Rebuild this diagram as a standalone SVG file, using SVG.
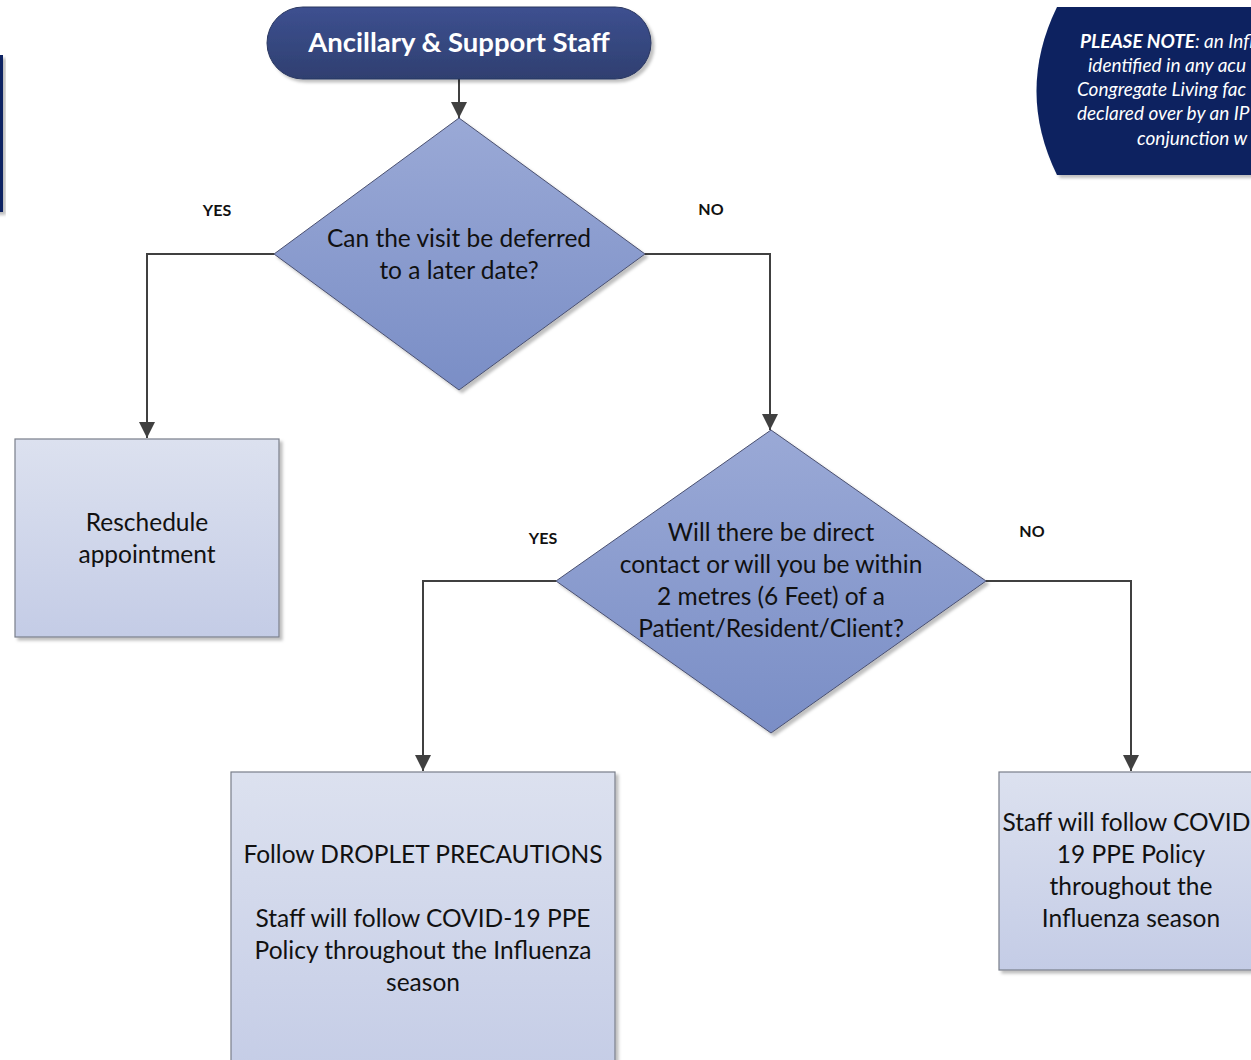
<svg xmlns="http://www.w3.org/2000/svg" width="1251" height="1060" viewBox="0 0 1251 1060">
<defs>
<linearGradient id="gTerm" x1="0" y1="0" x2="0" y2="1"><stop offset="0" stop-color="#3d5090"/><stop offset="1" stop-color="#2f3f70"/></linearGradient>
<linearGradient id="gDia" x1="0" y1="0" x2="0" y2="1"><stop offset="0" stop-color="#9aa9d6"/><stop offset="1" stop-color="#7a8ec6"/></linearGradient>
<linearGradient id="gBox" x1="0" y1="0" x2="0" y2="1"><stop offset="0" stop-color="#dce1ef"/><stop offset="1" stop-color="#c4cce6"/></linearGradient>
<filter id="sh" x="-10%" y="-10%" width="130%" height="130%"><feDropShadow dx="3" dy="3" stdDeviation="1.5" flood-color="#000" flood-opacity="0.25"/></filter>
<marker id="arr" viewBox="0 0 10 10" refX="10" refY="5" markerWidth="16" markerHeight="16" markerUnits="userSpaceOnUse" orient="auto"><path d="M0,0 L10,5 L0,10 z" fill="#404040"/></marker>
<style>
.term{fill:url(#gTerm);stroke:#2a3760;stroke-width:1}
.dia{fill:url(#gDia);stroke:#4a5070;stroke-width:1}
.box{fill:url(#gBox);stroke:#7a7f8a;stroke-width:1.2}
.t{font-family:Lato,"Open Sans","Liberation Sans",sans-serif;font-size:24.5px;fill:#111;text-anchor:middle}
.lbl{font-family:Lato,"Liberation Sans",sans-serif;font-size:16px;font-weight:bold;fill:#111;text-anchor:middle}
.conn{fill:none;stroke:#404040;stroke-width:2;marker-end:url(#arr)}
.note{font-family:Lato,"Liberation Sans",sans-serif;font-size:19px;font-style:italic;fill:#fff}
</style>
</defs>
<rect width="1251" height="1060" fill="#fff"/>

<g id="left-partial"><rect x="-10" y="55" width="13" height="157" fill="#0c2462" filter="url(#sh)"/></g>

<g id="note">
<path d="M1057,7 L1260,7 L1260,175 L1057,175 Q1016,91 1057,7 z" fill="#0b2260" filter="url(#sh)"/>
<text class="note" x="1080" y="48"><tspan font-weight="bold">PLEASE NOTE</tspan>: an Infl</text>
<text class="note" x="1088" y="72">identified in any acu</text>
<text class="note" x="1077" y="96">Congregate Living fac</text>
<text class="note" x="1077" y="120">declared over by an IP</text>
<text class="note" x="1137" y="145">conjunction w</text>
</g>

<g id="connectors">
<line class="conn" x1="459" y1="79" x2="459" y2="118"/>
<polyline class="conn" points="274,254 147,254 147,438"/>
<polyline class="conn" points="645,254 770,254 770,430"/>
<polyline class="conn" points="556,581 423,581 423,771"/>
<polyline class="conn" points="986,581 1131,581 1131,771"/>
<text class="lbl" x="217" y="216">YES</text>
<text class="lbl" x="711" y="215">NO</text>
<text class="lbl" x="543" y="544">YES</text>
<text class="lbl" x="1032" y="537">NO</text>
</g>

<g id="start">
<rect class="term" x="267" y="7" width="384" height="72" rx="36" ry="36" filter="url(#sh)"/>
<text class="t" x="459" y="52" style="font-weight:bold;fill:#fff;font-size:27.5px">Ancillary &amp; Support Staff</text>
</g>

<g id="q1">
<polygon class="dia" points="459,118 645,254 459,390 274,254" filter="url(#sh)"/>
<text class="t" x="459" y="247">Can the visit be deferred</text>
<text class="t" x="459" y="279">to a later date?</text>
</g>

<g id="reschedule">
<rect class="box" x="15" y="439" width="264" height="198" filter="url(#sh)"/>
<text class="t" x="147" y="531">Reschedule</text>
<text class="t" x="147" y="563">appointment</text>
</g>

<g id="q2">
<polygon class="dia" points="771,430 986,581 771,733 556,581" filter="url(#sh)"/>
<text class="t" x="771" y="541">Will there be direct</text>
<text class="t" x="771" y="573">contact or will you be within</text>
<text class="t" x="771" y="605">2 metres (6 Feet) of a</text>
<text class="t" x="771" y="637">Patient/Resident/Client?</text>
</g>

<g id="droplet">
<rect class="box" x="231" y="772" width="384" height="310" filter="url(#sh)"/>
<text class="t" x="423" y="863">Follow DROPLET PRECAUTIONS</text>
<text class="t" x="423" y="927">Staff will follow COVID-19 PPE</text>
<text class="t" x="423" y="959">Policy throughout the Influenza</text>
<text class="t" x="423" y="991">season</text>
</g>

<g id="covid">
<rect class="box" x="999" y="772" width="280" height="198" filter="url(#sh)"/>
<text class="t" x="1131" y="831">Staff will follow COVID-</text>
<text class="t" x="1131" y="863">19 PPE Policy</text>
<text class="t" x="1131" y="895">throughout the</text>
<text class="t" x="1131" y="927">Influenza season</text>
</g>
</svg>
